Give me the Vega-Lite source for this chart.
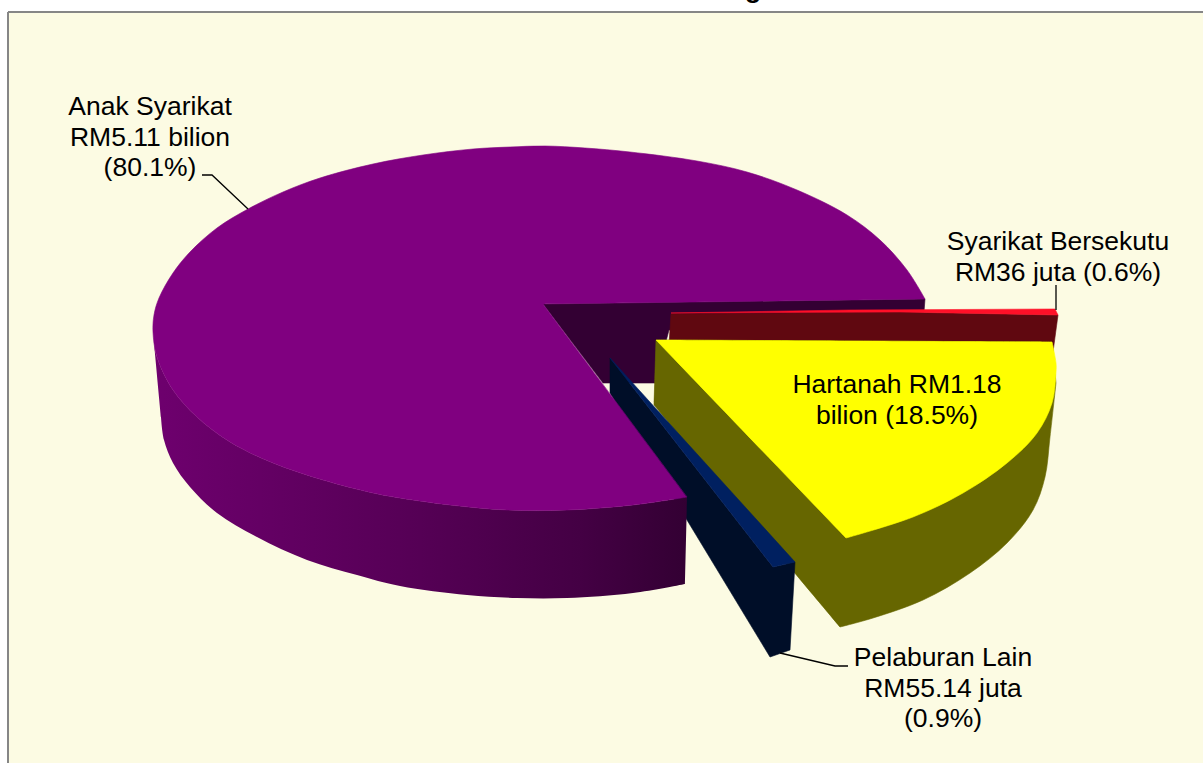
{"$schema":"https://vega.github.io/schema/vega-lite/v6.json","width":1203,"height":763,"padding":0,"autosize":"none","background":"#ffffff","view":{"stroke":null},
"datasets":{
"panel":[{"s":"panel","i":0,"x":8,"y":12},{"s":"panel","i":1,"x":1215,"y":12},{"s":"panel","i":2,"x":1215,"y":775},{"s":"panel","i":3,"x":8,"y":775},{"s":"panel","i":4,"x":8,"y":12}],
"back":[
{"s":"inner","i":0,"x":543,"y":304},{"s":"inner","i":1,"x":925,"y":299},{"s":"inner","i":2,"x":924,"y":312},{"s":"inner","i":3,"x":669,"y":330},{"s":"inner","i":4,"x":655,"y":383},{"s":"inner","i":5,"x":603,"y":383},{"s":"inner","i":6,"x":543,"y":304},
{"s":"redwall","i":0,"x":671,"y":314},{"s":"redwall","i":1,"x":900,"y":312},{"s":"redwall","i":2,"x":1058,"y":315},{"s":"redwall","i":3,"x":1053,"y":352},{"s":"redwall","i":4,"x":669,"y":345},{"s":"redwall","i":5,"x":671,"y":314},
{"s":"redtop","i":0,"x":671,"y":313},{"s":"redtop","i":1,"x":850,"y":310},{"s":"redtop","i":2,"x":1055,"y":309},{"s":"redtop","i":3,"x":1058,"y":315},{"s":"redtop","i":4,"x":900,"y":312},{"s":"redtop","i":5,"x":671,"y":313}
],
"shapes":[
{"s":"olive","i":0,"x":656,"y":340},{"s":"olive","i":1,"x":656,"y":340},{"s":"olive","i":2,"x":1052,"y":342},{"s":"olive","i":3,"x":1052,"y":342},{"s":"olive","i":4,"x":1056,"y":383},{"s":"olive","i":5,"x":1056,"y":383},{"s":"olive","i":6,"x":1050,"y":437},{"s":"olive","i":7,"x":1045,"y":477},{"s":"olive","i":8,"x":1033,"y":510},{"s":"olive","i":9,"x":1007,"y":543},{"s":"olive","i":10,"x":970,"y":573},{"s":"olive","i":11,"x":923,"y":600},{"s":"olive","i":12,"x":873,"y":618},{"s":"olive","i":13,"x":840,"y":627},{"s":"olive","i":14,"x":840,"y":627},{"s":"olive","i":15,"x":654,"y":405},{"s":"olive","i":16,"x":654,"y":405},{"s":"olive","i":17,"x":656,"y":340},{"s":"olive","i":18,"x":656,"y":340},
{"s":"yellow","i":0,"x":656,"y":340},{"s":"yellow","i":1,"x":656,"y":340},{"s":"yellow","i":2,"x":1052,"y":342},{"s":"yellow","i":3,"x":1052,"y":342},{"s":"yellow","i":4,"x":1056,"y":363},{"s":"yellow","i":5,"x":1056,"y":372},{"s":"yellow","i":6,"x":1052,"y":403},{"s":"yellow","i":7,"x":1037,"y":433},{"s":"yellow","i":8,"x":1007,"y":463},{"s":"yellow","i":9,"x":963,"y":493},{"s":"yellow","i":10,"x":913,"y":517},{"s":"yellow","i":11,"x":846,"y":538},{"s":"yellow","i":12,"x":846,"y":538},{"s":"yellow","i":13,"x":656,"y":340},{"s":"yellow","i":14,"x":656,"y":340}
],
"navy":[
{"s":"navywall","i":0,"x":610,"y":358},{"s":"navywall","i":1,"x":773,"y":567},{"s":"navywall","i":2,"x":795,"y":562},{"s":"navywall","i":3,"x":790,"y":650},{"s":"navywall","i":4,"x":770,"y":657},{"s":"navywall","i":5,"x":610,"y":393},{"s":"navywall","i":6,"x":610,"y":358},
{"s":"navytop","i":0,"x":610,"y":358},{"s":"navytop","i":1,"x":795,"y":562},{"s":"navytop","i":2,"x":773,"y":567},{"s":"navytop","i":3,"x":610,"y":358}
],
"wall":[
{"i":0,"x":153,"y":332},{"i":1,"x":153,"y":332},{"i":2,"x":157,"y":357},{"i":3,"x":173,"y":390},{"i":4,"x":197,"y":417},{"i":5,"x":230,"y":442},{"i":6,"x":273,"y":463},{"i":7,"x":323,"y":480},{"i":8,"x":373,"y":493},{"i":9,"x":400,"y":498},{"i":10,"x":450,"y":505},{"i":11,"x":507,"y":510},{"i":12,"x":567,"y":510},{"i":13,"x":633,"y":505},{"i":14,"x":687,"y":497},{"i":15,"x":687,"y":497},{"i":16,"x":685,"y":584},{"i":17,"x":685,"y":584},{"i":18,"x":633,"y":593},{"i":19,"x":567,"y":598},{"i":20,"x":517,"y":598},{"i":21,"x":467,"y":595},{"i":22,"x":400,"y":586},{"i":23,"x":357,"y":575},{"i":24,"x":307,"y":560},{"i":25,"x":257,"y":537},{"i":26,"x":217,"y":513},{"i":27,"x":190,"y":487},{"i":28,"x":173,"y":463},{"i":29,"x":164,"y":440},{"i":30,"x":161,"y":417},{"i":31,"x":161,"y":417},{"i":32,"x":153,"y":332},{"i":33,"x":153,"y":332}
],
"top":[
{"i":0,"x":543,"y":304},{"i":1,"x":543,"y":304},{"i":2,"x":925,"y":299},{"i":3,"x":925,"y":299},{"i":4,"x":907,"y":270},{"i":5,"x":880,"y":240},{"i":6,"x":847,"y":215},{"i":7,"x":797,"y":190},{"i":8,"x":747,"y":172},{"i":9,"x":697,"y":161},{"i":10,"x":630,"y":152},{"i":11,"x":585,"y":148},{"i":12,"x":545,"y":146},{"i":13,"x":510,"y":147},{"i":14,"x":473,"y":149},{"i":15,"x":423,"y":155},{"i":16,"x":373,"y":164},{"i":17,"x":320,"y":178},{"i":18,"x":283,"y":192},{"i":19,"x":248,"y":209},{"i":20,"x":217,"y":228},{"i":21,"x":190,"y":252},{"i":22,"x":173,"y":273},{"i":23,"x":159,"y":298},{"i":24,"x":154,"y":315},{"i":25,"x":153,"y":332},{"i":26,"x":157,"y":357},{"i":27,"x":173,"y":390},{"i":28,"x":197,"y":417},{"i":29,"x":230,"y":442},{"i":30,"x":273,"y":463},{"i":31,"x":323,"y":480},{"i":32,"x":373,"y":493},{"i":33,"x":400,"y":498},{"i":34,"x":450,"y":505},{"i":35,"x":507,"y":510},{"i":36,"x":567,"y":510},{"i":37,"x":633,"y":505},{"i":38,"x":687,"y":497},{"i":39,"x":687,"y":497},{"i":40,"x":543,"y":304},{"i":41,"x":543,"y":304}
],
"leaders":[
{"s":"a","i":0,"x":202,"y":175},{"s":"a","i":1,"x":212,"y":175},{"s":"a","i":2,"x":248,"y":209},
{"s":"b","i":0,"x":1056,"y":285},{"s":"b","i":1,"x":1056,"y":310},
{"s":"c","i":0,"x":780,"y":653},{"s":"c","i":1,"x":835,"y":666},{"s":"c","i":2,"x":848,"y":666}
],
"labels":[
{"t":"Anak Syarikat\nRM5.11 bilion\n(80.1%)","x":150,"y":107},
{"t":"Syarikat Bersekutu\nRM36 juta (0.6%)","x":1058,"y":242},
{"t":"Hartanah RM1.18\nbilion (18.5%)","x":897,"y":385},
{"t":"Pelaburan Lain\nRM55.14 juta\n(0.9%)","x":943,"y":658}
],
"title":[{"t":"g","x":753,"y":-10}]
},
"layer":[
{"data":{"name":"panel"},"mark":{"type":"line","fill":"#fcfbe3","stroke":"#868686","strokeWidth":2,"clip":true},
"encoding":{"x":{"field":"x","type":"quantitative","axis":null,"scale":{"domain":[0,1203],"nice":false,"zero":false}},"y":{"field":"y","type":"quantitative","axis":null,"scale":{"domain":[763,0],"nice":false,"zero":false}},"order":{"field":"i"}}},
{"data":{"name":"back"},"mark":{"type":"line","strokeWidth":0.6},
"encoding":{"x":{"field":"x","type":"quantitative"},"y":{"field":"y","type":"quantitative"},"order":{"field":"i"},
"fill":{"field":"s","type":"nominal","legend":null,"scale":{"domain":["inner","redwall","redtop","olive","yellow","navywall","navytop"],"range":["#330033","#600810","#ff1028","#666600","#ffff00","#000e28","#002060"]}},
"stroke":{"field":"s","type":"nominal","legend":null,"scale":{"domain":["inner","redwall","redtop","olive","yellow","navywall","navytop"],"range":["#330033","#600810","#ff1028","#666600","#ffff00","#000e28","#002060"]}}}},
{"data":{"name":"shapes"},"mark":{"type":"line","strokeWidth":0.6,"interpolate":"catmull-rom"},
"encoding":{"x":{"field":"x","type":"quantitative"},"y":{"field":"y","type":"quantitative"},"order":{"field":"i"},
"fill":{"field":"s","type":"nominal","legend":null},
"stroke":{"field":"s","type":"nominal","legend":null}}},
{"data":{"name":"navy"},"mark":{"type":"line","strokeWidth":0.6},
"encoding":{"x":{"field":"x","type":"quantitative"},"y":{"field":"y","type":"quantitative"},"order":{"field":"i"},
"fill":{"field":"s","type":"nominal","legend":null},
"stroke":{"field":"s","type":"nominal","legend":null}}},
{"data":{"name":"wall"},"mark":{"type":"line","interpolate":"catmull-rom","strokeWidth":0,"fill":{"gradient":"linear","x1":0,"y1":0,"x2":1,"y2":0,"stops":[{"offset":0,"color":"#6e006e"},{"offset":0.5,"color":"#550055"},{"offset":0.8,"color":"#440044"},{"offset":1,"color":"#330033"}]}},
"encoding":{"x":{"field":"x","type":"quantitative"},"y":{"field":"y","type":"quantitative"},"order":{"field":"i"}}},
{"data":{"name":"top"},"mark":{"type":"line","interpolate":"catmull-rom","fill":"#800080","stroke":"#800080","strokeWidth":0.6},
"encoding":{"x":{"field":"x","type":"quantitative"},"y":{"field":"y","type":"quantitative"},"order":{"field":"i"}}},
{"data":{"name":"leaders"},"mark":{"type":"line","color":"#000000","strokeWidth":1.3},
"encoding":{"x":{"field":"x","type":"quantitative"},"y":{"field":"y","type":"quantitative"},"order":{"field":"i"},"detail":{"field":"s"}}},
{"data":{"name":"labels"},"mark":{"type":"text","font":"Liberation Sans","fontSize":26.5,"lineHeight":30.5,"lineBreak":"\n","baseline":"middle","align":"center","color":"#000000"},
"encoding":{"x":{"field":"x","type":"quantitative"},"y":{"field":"y","type":"quantitative"},"text":{"field":"t"}}},
{"data":{"name":"title"},"mark":{"type":"text","font":"Liberation Sans","fontWeight":"bold","fontSize":26.5,"baseline":"middle","align":"center","clip":true,"color":"#000000"},
"encoding":{"x":{"field":"x","type":"quantitative"},"y":{"field":"y","type":"quantitative"},"text":{"field":"t"}}}
]}
